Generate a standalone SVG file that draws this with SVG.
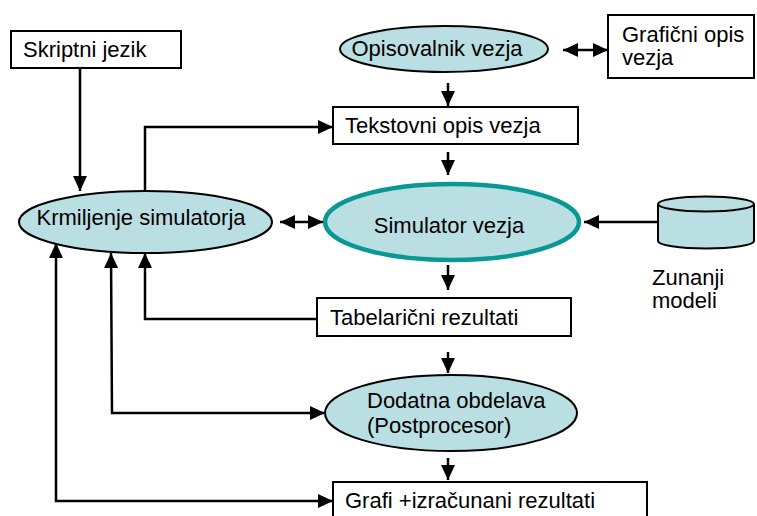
<svg xmlns="http://www.w3.org/2000/svg" width="757" height="516" viewBox="0 0 757 516">
  <defs>
    <marker id="head" markerUnits="userSpaceOnUse" markerWidth="16" markerHeight="14" refX="15" refY="7" orient="auto-start-reverse">
      <path d="M0,0 L15,7 L0,14 Z" fill="#000"/>
    </marker>
  </defs>
  <style>
    text { font-family: "Liberation Sans", Arial, sans-serif; font-size: 22px; fill: #000; }
    .box { fill: #fff; stroke: #000; stroke-width: 2; }
    .oval { fill: #b9dfe2; stroke: #000; stroke-width: 2; }
    .main { fill: #b9dfe2; stroke: #0a9895; stroke-width: 4.5; }
    .wire { fill: none; stroke: #000; stroke-width: 2.5; }
    .one { marker-end: url(#head); }
    .two { marker-start: url(#head); marker-end: url(#head); }
  </style>
  <rect width="757" height="516" fill="#fff"/>

  <g id="connectors">
    <path class="wire one" d="M80,68 V191"/>
    <path class="wire one" d="M145,191 V127 H333"/>
    <path class="wire one" d="M448,83 V106"/>
    <path class="wire one" d="M448,152 V175"/>
    <path class="wire one" d="M448,265 V290"/>
    <path class="wire one" d="M448,352 V373"/>
    <path class="wire one" d="M448,458 V480"/>
    <path class="wire two" d="M563,50 H608"/>
    <path class="wire two" d="M280,222 H323"/>
    <path class="wire one" d="M658,222 H584"/>
    <path class="wire one" d="M317,319 H145 V253"/>
    <path class="wire two" d="M111,253 L112,413 H325"/>
    <path class="wire two" d="M56,243 V501 H333"/>
  </g>

  <g id="skriptni-jezik">
    <rect class="box" x="11" y="31" width="170" height="37"/>
    <text x="23" y="57">Skriptni jezik</text>
  </g>

  <g id="opisovalnik-vezja">
    <ellipse class="oval" cx="444" cy="49" rx="104" ry="23"/>
    <text x="437" y="56" text-anchor="middle">Opisovalnik vezja</text>
  </g>

  <g id="graficni-opis">
    <rect class="box" x="608" y="15" width="146" height="63"/>
    <text x="622" y="42">Grafični opis</text>
    <text x="622" y="65">vezja</text>
  </g>

  <g id="tekstovni-opis">
    <rect class="box" x="333" y="107" width="245" height="37"/>
    <text x="345" y="133">Tekstovni opis vezja</text>
  </g>

  <g id="krmiljenje-simulatorja">
    <ellipse class="oval" cx="145.5" cy="222" rx="126.5" ry="31"/>
    <text x="141" y="225" text-anchor="middle">Krmiljenje simulatorja</text>
  </g>

  <g id="simulator-vezja">
    <ellipse class="main" cx="452" cy="222" rx="127" ry="38"/>
    <text x="449" y="233" text-anchor="middle">Simulator vezja</text>
  </g>

  <g id="zunanji-modeli">
    <path class="oval" d="M658,204 V241 A48,7.5 0 0 0 754,241 V204"/>
    <ellipse class="oval" cx="706" cy="204" rx="48" ry="7.5"/>
    <text x="652" y="285">Zunanji</text>
    <text x="652" y="308">modeli</text>
  </g>

  <g id="tabelaricni-rezultati">
    <rect class="box" x="317" y="298" width="254" height="38"/>
    <text x="330" y="325">Tabelarični rezultati</text>
  </g>

  <g id="dodatna-obdelava">
    <ellipse class="oval" cx="451" cy="413" rx="126" ry="38"/>
    <text x="367" y="408">Dodatna obdelava</text>
    <text x="367" y="433">(Postprocesor)</text>
  </g>

  <g id="grafi">
    <rect class="box" x="333" y="482" width="314" height="40"/>
    <text x="345" y="508">Grafi +izračunani rezultati</text>
  </g>
</svg>
